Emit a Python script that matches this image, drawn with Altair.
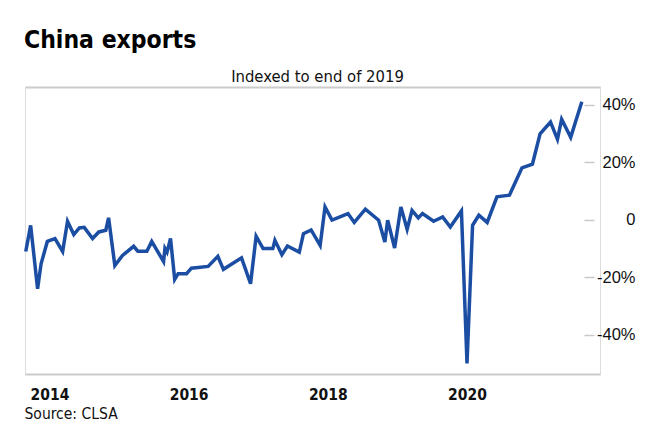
import altair as alt
import pandas as pd

years = [2013.66, 2013.73, 2013.83, 2013.88, 2013.97, 2014.08, 2014.19, 2014.26, 2014.35, 2014.43,
         2014.50, 2014.62, 2014.71, 2014.81, 2014.85, 2014.94, 2015.05, 2015.21, 2015.27, 2015.40,
         2015.47, 2015.64, 2015.66, 2015.69, 2015.74, 2015.80, 2015.85, 2015.97, 2016.04, 2016.28,
         2016.42, 2016.50, 2016.76, 2016.89, 2016.97, 2017.07, 2017.21, 2017.24, 2017.34, 2017.42,
         2017.59, 2017.65, 2017.76, 2017.89, 2017.96, 2018.06, 2018.29, 2018.38, 2018.54, 2018.73,
         2018.82, 2018.86, 2018.96, 2019.05, 2019.14, 2019.21, 2019.30, 2019.36, 2019.52, 2019.65,
         2019.76, 2019.92, 2020.00, 2020.08, 2020.17, 2020.29, 2020.43, 2020.61, 2020.79, 2020.94,
         2021.05, 2021.20, 2021.30, 2021.36, 2021.49, 2021.65]
values = [-11.1, -2.0, -24.1, -15.4, -7.6, -6.6, -11.1, -0.6, -5.2, -2.9,
          -2.7, -6.6, -4.3, -3.7, 0.6, -16.0, -12.5, -9.3, -11.0, -11.0,
          -7.6, -14.6, -10.0, -11.3, -6.6, -20.8, -18.8, -18.8, -16.9, -16.3,
          -12.8, -17.3, -13.3, -22.3, -5.8, -10.1, -10.1, -7.2, -12.2, -9.2,
          -11.3, -4.9, -3.6, -9.0, 4.4, -0.2, 2.1, -1.0, 3.6, -0.2,
          -7.8, -0.2, -9.9, 4.4, -3.4, 3.2, 0.6, 2.1, -0.6, 0.9,
          -2.6, 3.0, -50.0, -2.0, 1.5, -1.0, 7.9, 8.5, 18.0, 19.3,
          29.8, 33.9, 27.9, 34.9, 28.6, 41.0]

x_ticks = [2014, 2016, 2018, 2020]
y_ticks = [-40, -20, 0, 20, 40]

title_text = "China exports"
subtitle_text = "Indexed to end of 2019"
source_text = "Source: CLSA"

df = pd.DataFrame({"year": years, "pct": values})

COND = "DejaVu Sans Condensed, Liberation Sans, sans-serif"
REG = "Liberation Sans, Arial, sans-serif"
W, H = 575, 287
GRAY = "#cccccc"

xscale = alt.Scale(domain=[2013.649, 2021.911], nice=False, zero=False)
yscale = alt.Scale(domain=[-53.7, 46.1], nice=False, zero=False)

line = alt.Chart(df).mark_line(color="#1b4ea3", strokeWidth=3.5).encode(
    x=alt.X(
        "year:Q", scale=xscale,
        axis=alt.Axis(
            values=x_ticks, format="d", grid=False, ticks=False,
            domain=True, domainColor=GRAY, domainWidth=2,
            labelFont=COND, labelFontSize=15.5, labelFontWeight="bold", labelColor="#111111",
            labelPadding=20, labelBaseline="middle", labelFlush=False,
            title=source_text, titleFont=COND, titleFontSize=15.5, titleFontWeight="normal",
            titleColor="#111111", titleAnchor="start", titleAlign="left", titleBaseline="middle",
            titleX=-1, titleY=39,
        ),
    ),
    y=alt.Y(
        "pct:Q", scale=yscale,
        axis=alt.Axis(
            orient="right", values=y_ticks, grid=False, domain=False,
            labelExpr="datum.value == 0 ? '0' : datum.value + '%'",
            tickColor="#c8c8c8", tickSize=10, tickWidth=1.5, offset=-16,
            labelFont=REG, labelFontSize=16.5, labelColor="#111111",
            labelAlign="right", labelPadding=41, labelBaseline="middle",
            title=subtitle_text, titleFont=COND, titleFontSize=16.5, titleFontWeight="normal",
            titleColor="#111111", titleAngle=0, titleAlign="center", titleBaseline="alphabetic",
            titleX=-267, titleY=-6,
        ),
    ),
)

top_edge = alt.Chart(df).mark_line(opacity=0).encode(
    x=alt.X(
        "year:Q", scale=xscale,
        axis=alt.Axis(orient="top", labels=False, ticks=False, grid=False,
                      domain=True, domainColor=GRAY, domainWidth=2, title=None),
    ),
    y=alt.Y("pct:Q", scale=yscale, axis=None),
)

chart = alt.layer(line, top_edge).resolve_axis(x="independent", y="independent").properties(
    width=W, height=H,
    autosize=alt.AutoSizeParams(type="none"),
    padding={"left": 17, "top": 79, "right": 52, "bottom": 56},
    title=alt.TitleParams(
        text=title_text, anchor="start", frame="group", font=COND, fontSize=24.5,
        fontWeight="bold", color="#000000", dx=-1, offset=15,
    ),
).configure_view(stroke=None).configure(background="white")

chart.save("out.html", embed_options={"renderer": "svg", "actions": False})
